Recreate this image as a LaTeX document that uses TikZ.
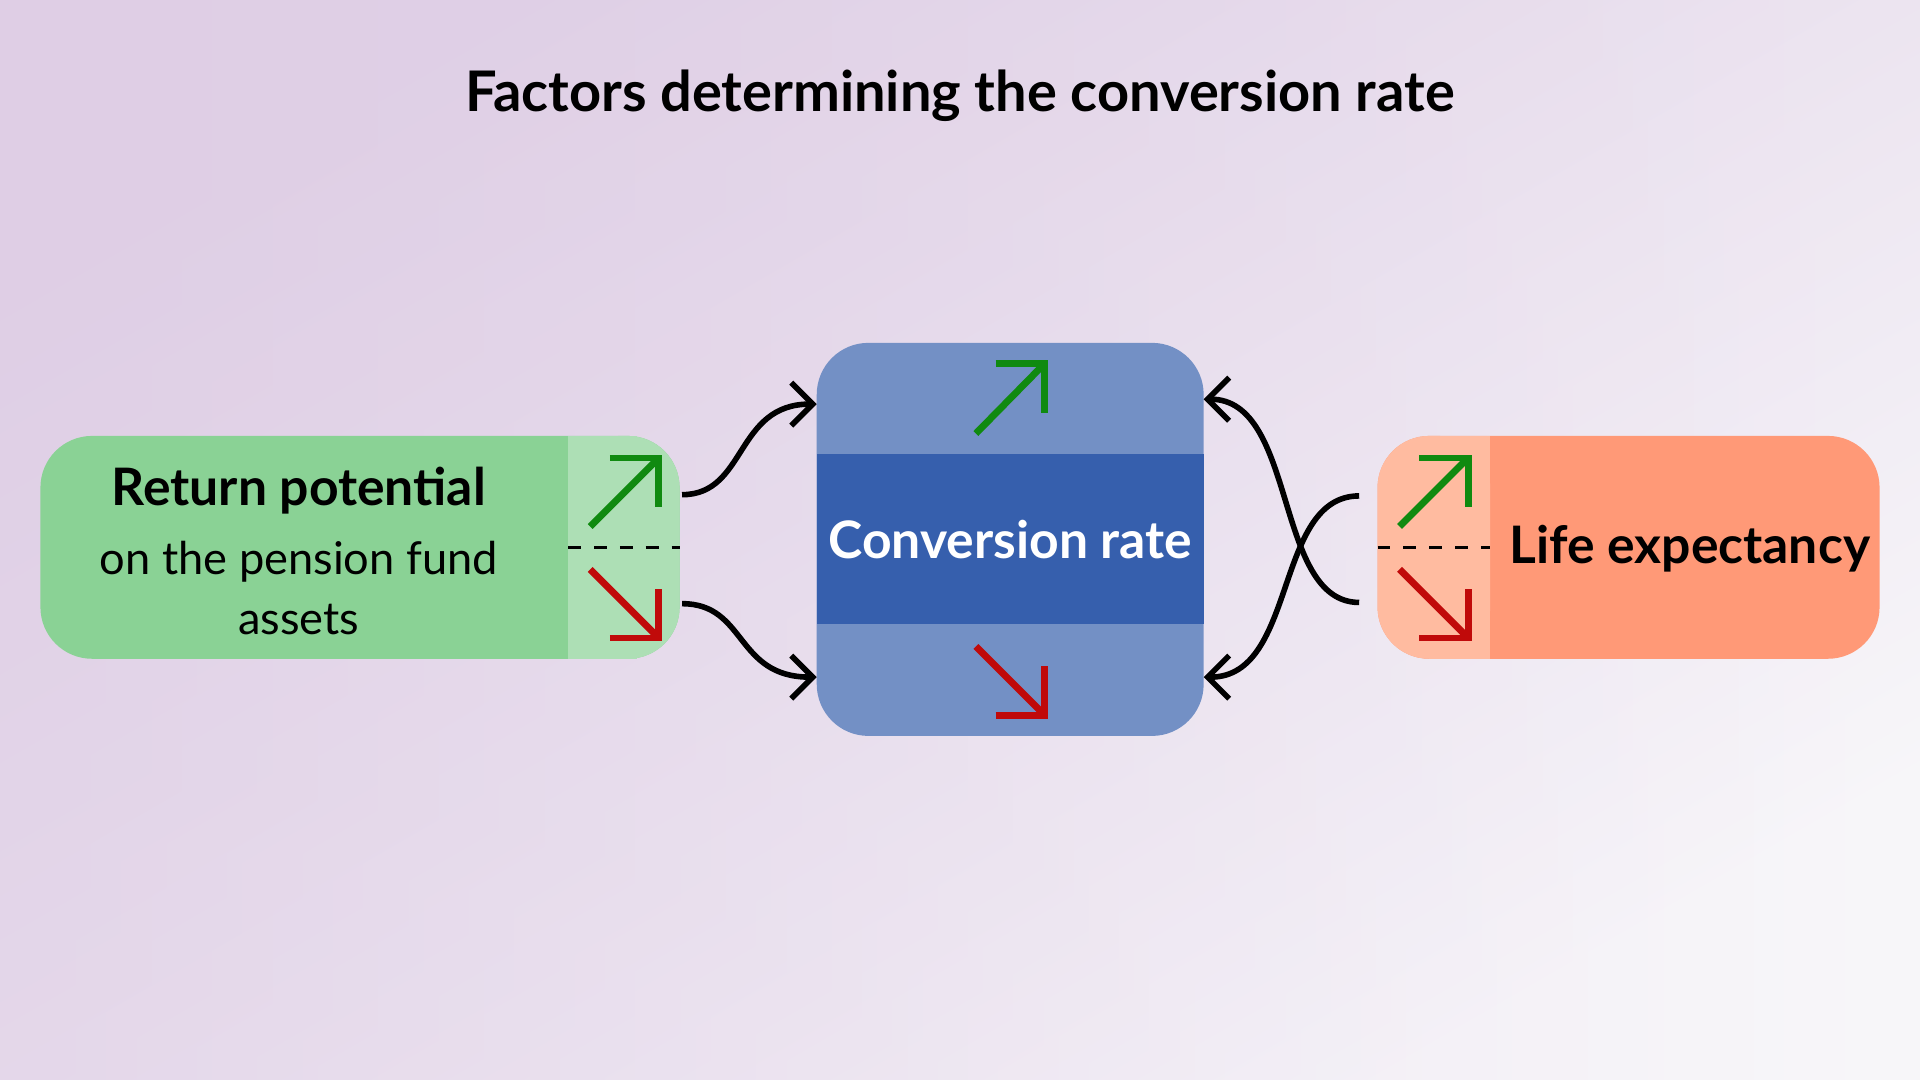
\documentclass[tikz,border=0pt]{standalone}
\usepackage{fontspec}
\setmainfont{Lato}
\usetikzlibrary{arrows.meta,positioning,calc,fadings}
\definecolor{bgA}{HTML}{DCCAE3}
\definecolor{bgB}{HTML}{F8F7FA}
\definecolor{greenMain}{HTML}{8AD295}
\definecolor{greenLite}{HTML}{ADDFB5}
\definecolor{blueLite}{HTML}{7390C5}
\definecolor{blueDark}{HTML}{365FAD}
\definecolor{orMain}{HTML}{FF9977}
\definecolor{orLite}{HTML}{FFBBA0}
\definecolor{upGreen}{HTML}{108A10}
\definecolor{dnRed}{HTML}{C00A0A}
\begin{document}
\begin{tikzpicture}[x=0.01cm, y=-0.01cm]
    % ---- styles ----
    \tikzset{
        label/.style={font=\fontsize{10.5}{14}\selectfont, align=center},
        link/.style={line width=1.3pt, black, -{Straight Barb[length=5pt, width=10pt]}},
        divider/.style={dashed, line width=0.6pt, black},
        trend/.style={line width=1.6pt}
    }
    % diagonal trend arrow: #1 colour, #2 tail, #3 tip, #4 +1 up / -1 down
    \newcommand{\trendarrow}[4]{%
        \draw[trend, #1] (#2) -- (#3);
        \draw[trend, #1, line join=miter] ($(#3)+(-40,0)$) -- (#3) -- ($(#3)+(0,#4*40)$);
    }

    % ---- background ----
    \useasboundingbox (0,0) rectangle (1568,882);
    \shade[top color=bgA!80!bgB, bottom color=bgB, shading angle=30] (0,0) rectangle (1568,882);
    \fill[bgA, opacity=0.5, path fading=east] (0,0) rectangle (1568,882);

    \node[font=\fontsize{13}{16}\selectfont\bfseries] (title) at (784,78) {Factors determining the conversion rate};

    % ---- return potential ----
    \fill[greenMain, rounded corners=12] (33,356) rectangle (555,538);
    \fill[greenLite, rounded corners=12] (464,356) rectangle (555,538);
    \fill[greenLite] (464,356) rectangle (520,538);
    \node[label] (ret) at (244,450) {{\bfseries\fontsize{12}{14}\selectfont Return potential}\\[2pt]on the pension fund\\assets};
    \draw[divider] (464,447) -- (555,447);
    \trendarrow{upGreen}{482,430}{538,374}{1}
    \trendarrow{dnRed}{482,465}{538,521}{-1}

    % ---- conversion rate ----
    \fill[blueLite, rounded corners=12] (667,280) rectangle (983,601);
    \fill[blueDark] (667,371) rectangle (983,510);
    \node[font=\fontsize{12}{14}\selectfont\bfseries, text=white] (conv) at (825,441) {Conversion rate};
    \trendarrow{upGreen}{797,354}{853,297}{1}
    \trendarrow{dnRed}{797,528}{853,584}{-1}

    % ---- life expectancy ----
    \fill[orMain, rounded corners=12] (1125,356) rectangle (1535,538);
    \fill[orLite, rounded corners=12] (1125,356) rectangle (1217,538);
    \fill[orLite] (1170,356) rectangle (1217,538);
    \node[font=\fontsize{12}{14}\selectfont\bfseries] (life) at (1380,448) {Life expectancy};
    \draw[divider] (1125,447) -- (1217,447);
    \trendarrow{upGreen}{1143,430}{1199,374}{1}
    \trendarrow{dnRed}{1143,465}{1199,521}{-1}

    % ---- links ----
    \coordinate (retUp) at (557,404);
    \coordinate (retDn) at (557,493);
    \coordinate (lifeUp) at (1110,405);
    \coordinate (lifeDn) at (1110,492);
    \coordinate (convUp) at (667,330);
    \coordinate (convDn) at (667,553);
    \coordinate (convUpR) at (983,326);
    \coordinate (convDnR) at (983,553);
    \draw[link] (retUp) .. controls (610,404) and (600,330) .. (convUp);
    \draw[link] (retDn) .. controls (610,493) and (600,553) .. (convDn);
    \draw[link] (lifeUp) .. controls (1040,405) and (1060,553) .. (convDnR);
    \draw[link] (lifeDn) .. controls (1040,492) and (1060,326) .. (convUpR);
\end{tikzpicture}
\end{document}
